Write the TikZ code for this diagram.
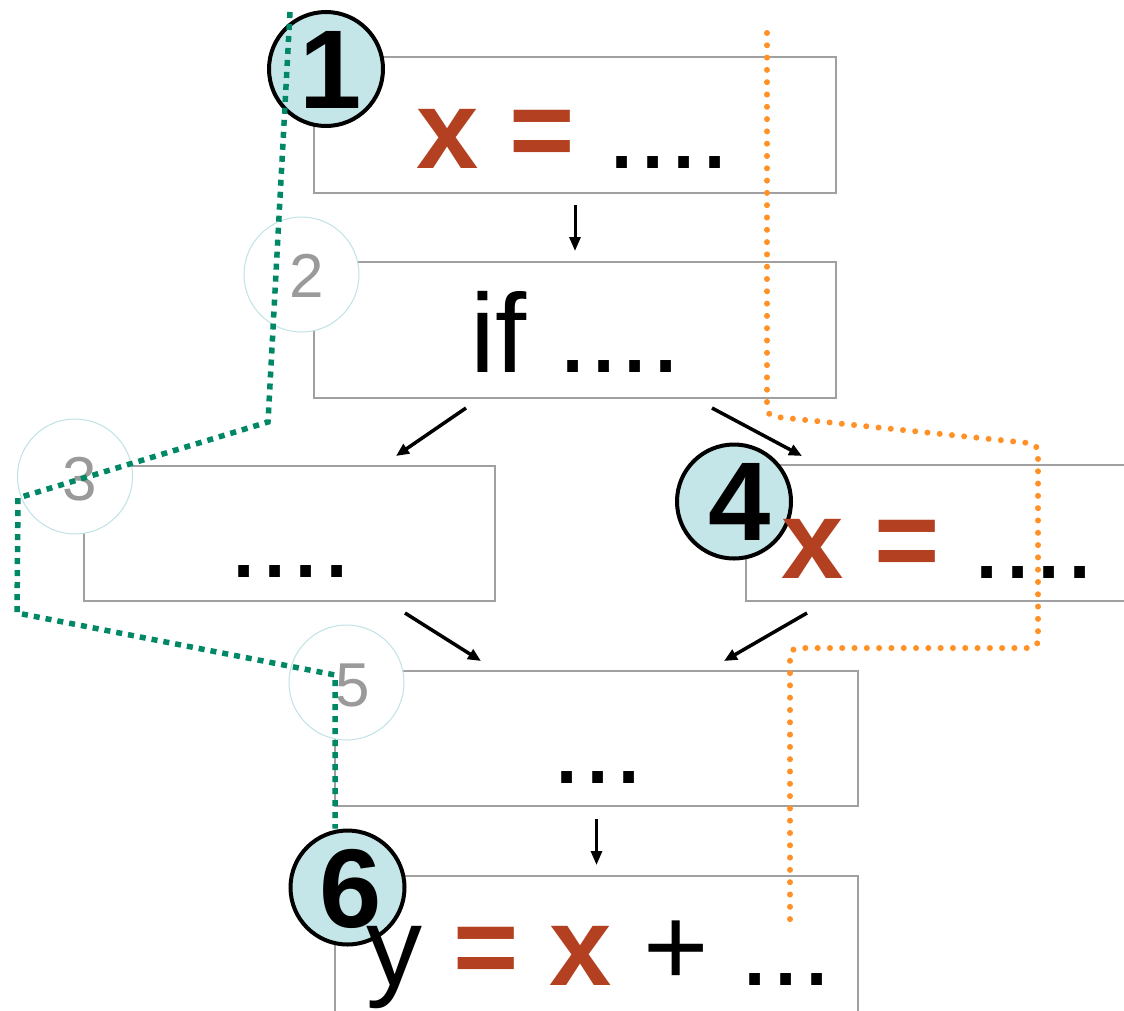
\documentclass[tikz,border=0pt]{standalone}
\usepackage{fontspec}
\setmainfont{Liberation Sans}
\usetikzlibrary{arrows.meta,calc}
\definecolor{codered}{HTML}{B34121}
\definecolor{cfill}{HTML}{C4E6E9}
\definecolor{cline}{HTML}{BFE2E5}
\definecolor{pathgreen}{HTML}{008766}
\definecolor{pathorange}{HTML}{FF9126}
\definecolor{boxgray}{HTML}{A0A0A0}
\definecolor{numgray}{HTML}{9A9A9A}
\begin{document}
\begin{tikzpicture}[x=1pt,y=-1pt,
  codebox/.style={draw=boxgray, line width=2pt, fill=white, inner sep=0pt, minimum height=136pt},
  bignum/.style={circle, draw=black, line width=4pt, fill=cfill, minimum size=114pt, inner sep=0pt},
  smallnum/.style={circle, draw=cline, line width=1pt, fill=white, minimum size=115pt, inner sep=0pt},
  bigdigit/.style={inner sep=0pt, anchor=base, font=\fontsize{112}{112}\selectfont\bfseries},
  smalldigit/.style={inner sep=0pt, anchor=base, text=numgray, font=\fontsize{62}{62}\selectfont},
  codetext/.style={inner sep=0pt, anchor=base west, font=\fontsize{112}{112}\selectfont},
  flow/.style={-{Triangle[length=13pt,width=11pt]}, line width=3.5pt},
  flowthin/.style={-{Triangle[length=14pt,width=11pt]}, line width=3pt},
  greenpath/.style={draw=pathgreen, line width=5.5pt, dash pattern=on 6pt off 6pt},
  orangepath/.style={draw=pathorange, line width=6pt, line cap=round, dash pattern=on 0pt off 12.3pt, rounded corners=8pt}
]
\useasboundingbox (0,0) rectangle (1124,1010);
\clip (0,0) rectangle (1124,1010);
\fill[white] (0,0) rectangle (1124,1010);

% boxes
\node[codebox, minimum width=522pt] (b1) at (575,125) {};
\node[codebox, minimum width=522pt] (b2) at (575,330) {};
\node[codebox, minimum width=411pt, minimum height=135pt] (b3) at (289.5,533.5) {};
\node[codebox, minimum width=522pt] (b4) at (1007,533) {};
\node[codebox, minimum width=523pt, minimum height=135pt] (b5) at (596.5,738.5) {};
\node[codebox, minimum width=523pt] (b6) at (596.5,944) {};

% circles
\node[bignum] (c1) at (326,69) {};
\node[smallnum] (c2) at (301.5,274.5) {};
\node[smallnum] (c3) at (75,476.5) {};
\node[bignum] (c4) at (734,501.5) {};
\node[smallnum] (c5) at (346.5,682.5) {};
\node[bignum] (c6) at (347.5,887.5) {};

% digits
\node[bigdigit] (d1) at (330.5,108) {1};
\node[smalldigit] (d2) at (307,297) {2};
\node[smalldigit] (d3) at (79.5,500.5) {3};
\node[bigdigit] (d4) at (739.5,540) {4};
\node[smalldigit] (d5) at (352.5,706.5) {5};
\node[bigdigit] (d6) at (351,927) {6};

% code texts
\node[codetext] (t1) at (416,168) {{\bfseries\color{codered}x =} ....};
\node[codetext] (t2) at (470,372) {if ....};
\node[codetext] (t3) at (228,577) {....};
\node[codetext] (t4) at (781,578) {{\bfseries\color{codered}x =} ....};
\node[codetext] (t5) at (551,783) {...};
\node[codetext] (t6) at (366,985) {y {\bfseries\color{codered}= x} + ...};

% flow arrows
\draw[flowthin, shorten <=11pt, shorten >=10pt] (b1.south) -- (b2.north);
\draw[flow] ($(b2.south west)+(153,9)$) -- ($(b3.north west)+(313,-9)$);
\draw[flow] ($(b2.south west)+(399,9)$) -- ($(b4.north west)+(57,-8)$);
\draw[flow] ($(b3.south west)+(322,11)$) -- ($(b5.north west)+(147,-9)$);
\draw[flow] ($(b4.south west)+(62,11)$) -- ($(b5.north west)+(390,-9)$);
\draw[flowthin, shorten <=12pt, shorten >=10pt] (b5.south) -- (b6.north);

% dotted paths
\draw[orangepath] (767,33) -- (767,416) -- (1038,444) -- (1038,648) -- (790,648) -- (790,920);
\coordinate (gend) at (335,675 |- c6.north);
\draw[greenpath] (290,12) -- (268,422) -- (18,498) -- (17,613) -- (335,675) -- (gend);
\end{tikzpicture}
\end{document}
